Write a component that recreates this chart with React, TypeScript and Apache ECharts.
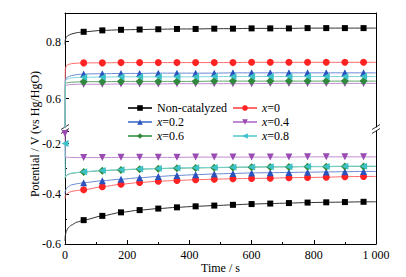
import React, { useEffect, useRef } from 'react';
import * as echarts from 'echarts';

const FONT = '"Liberation Serif", "Times New Roman", serif';

const markTimes = [60, 120, 180, 240, 300, 360, 420, 480, 540, 600, 660, 720, 780, 840, 900, 960];
const startTimes = [0, 1, 4, 10, 20, 38];
const endTime = 1000;
const xTicks = [0, 200, 400, 600, 800, 1000];

const names = ['Non-catalyzed', 'x=0', 'x=0.2', 'x=0.4', 'x=0.6', 'x=0.8'];

// upper (positive) branch
const ncUpStart = [0.79, 0.806, 0.815, 0.821, 0.826, 0.831];
const ncUp = [0.834, 0.839, 0.841, 0.842, 0.843, 0.844, 0.844, 0.845, 0.845, 0.846, 0.846, 0.846, 0.847, 0.847, 0.847, 0.847];
const x0UpStart = [0.45, 0.703, 0.714, 0.719, 0.722, 0.724];
const x0Up = [0.725, 0.725, 0.726, 0.726, 0.726, 0.726, 0.726, 0.726, 0.726, 0.727, 0.727, 0.727, 0.727, 0.727, 0.727, 0.727];
const x02UpStart = [0.45, 0.665, 0.672, 0.676, 0.680, 0.684];
const x02Up = [0.686, 0.687, 0.688, 0.688, 0.689, 0.689, 0.689, 0.689, 0.690, 0.690, 0.690, 0.690, 0.690, 0.690, 0.690, 0.690];
const x04UpStart = [0.45, 0.644, 0.646, 0.648, 0.649, 0.650];
const x04Up = [0.650, 0.650, 0.651, 0.651, 0.651, 0.652, 0.652, 0.652, 0.652, 0.652, 0.653, 0.653, 0.653, 0.653, 0.653, 0.653];
const x06UpStart = [0.45, 0.651, 0.654, 0.656, 0.657, 0.658];
const x06Up = [0.659, 0.659, 0.660, 0.660, 0.660, 0.660, 0.660, 0.661, 0.661, 0.661, 0.661, 0.661, 0.661, 0.661, 0.661, 0.661];
const x08UpStart = [0.45, 0.660, 0.666, 0.669, 0.672, 0.674];
const x08Up = [0.675, 0.675, 0.676, 0.676, 0.676, 0.676, 0.676, 0.677, 0.677, 0.677, 0.677, 0.677, 0.677, 0.677, 0.677, 0.677];

// lower (negative) branch
const ncLoStart = [-0.588, -0.566, -0.550, -0.536, -0.525, -0.513];
const ncLo = [-0.505, -0.488, -0.474, -0.465, -0.459, -0.454, -0.450, -0.447, -0.444, -0.441, -0.439, -0.437, -0.435, -0.434, -0.433, -0.432];
const x0LoStart = [-0.42, -0.410, -0.402, -0.396, -0.391, -0.387];
const x0Lo = [-0.384, -0.372, -0.362, -0.355, -0.350, -0.347, -0.344, -0.342, -0.340, -0.339, -0.338, -0.336, -0.335, -0.334, -0.332, -0.331];
const x02LoStart = [-0.40, -0.390, -0.380, -0.372, -0.365, -0.360];
const x02Lo = [-0.356, -0.348, -0.342, -0.336, -0.331, -0.327, -0.324, -0.321, -0.319, -0.317, -0.316, -0.315, -0.314, -0.313, -0.312, -0.311];
const x04LoStart = [-0.16, -0.254, -0.254, -0.255, -0.255, -0.256];
const x04Lo = [-0.256, -0.256, -0.255, -0.255, -0.255, -0.255, -0.254, -0.254, -0.254, -0.254, -0.254, -0.254, -0.253, -0.253, -0.253, -0.253];
const x06LoStart = [-0.34, -0.334, -0.328, -0.323, -0.319, -0.316];
const x06Lo = [-0.313, -0.308, -0.305, -0.302, -0.300, -0.298, -0.297, -0.296, -0.295, -0.294, -0.293, -0.293, -0.292, -0.292, -0.291, -0.291];
const x08LoStart = [-0.20, -0.335, -0.328, -0.322, -0.318, -0.315];
const x08Lo = [-0.312, -0.307, -0.304, -0.301, -0.299, -0.297, -0.296, -0.295, -0.294, -0.293, -0.292, -0.292, -0.291, -0.291, -0.290, -0.290];

const markerColors = ['#000000', '#ff2222', '#2a52be', '#9a4bb2', '#2f8a3c', '#3cc2c8'];
const lineColors = ['#333333', '#ff6a6a', '#6a8ad4', '#c08ad0', '#5ea86a', '#7ad6da'];
const symbols = ['rect', 'circle', 'triangle', 'triangle', 'diamond', 'triangle'];
const rotations = [0, 0, 0, 180, 0, 90];
const sizes = [6, 7, 7, 7, 8, 7];

function buildData(start: number[], marks: number[], markFirst: boolean) {
  const d: any[] = [];
  start.forEach((v, i) => {
    if (i === 0 && markFirst) d.push([startTimes[i], v]);
    else d.push({ value: [startTimes[i], v], symbol: 'none' });
  });
  marks.forEach((v, i) => d.push([markTimes[i], v]));
  d.push({ value: [endTime, marks[marks.length - 1]], symbol: 'none' });
  return d;
}

const upper = [
  [ncUpStart, ncUp], [x0UpStart, x0Up], [x02UpStart, x02Up],
  [x04UpStart, x04Up], [x06UpStart, x06Up], [x08UpStart, x08Up],
];
const lower = [
  [ncLoStart, ncLo], [x0LoStart, x0Lo], [x02LoStart, x02Lo],
  [x04LoStart, x04Lo], [x06LoStart, x06Lo], [x08LoStart, x08Lo],
];
const lowerSpike = [false, false, false, true, false, true];

export default function App() {
  const ref = useRef<HTMLDivElement>(null);
  useEffect(() => {
    if (!ref.current) return;
    const chart = echarts.init(ref.current, undefined, { renderer: 'svg' });
    const mkSeries = (i: number, pair: number[][], grid: number, spike: boolean) => ({
      type: 'line',
      name: names[i],
      xAxisIndex: grid,
      yAxisIndex: grid * 2,
      data: buildData(pair[0], pair[1], spike),
      symbol: symbols[i],
      symbolSize: sizes[i],
      symbolRotate: rotations[i],
      showAllSymbol: true,
      smooth: 0.25,
      smoothMonotone: 'x',
      clip: true,
      lineStyle: { width: 1, color: lineColors[i] },
      itemStyle: { color: markerColors[i] },
      emphasis: { disabled: true },
    });
    const series: any[] = [];
    upper.forEach((p, i) => series.push(mkSeries(i, p, 0, false)));
    lower.forEach((p, i) => series.push(mkSeries(i, p, 1, lowerSpike[i])));

    const labelFmt = (v: number) => (Math.abs(v * 5 - Math.round(v * 5)) < 1e-6 ? v.toFixed(1) : '');
    const axisLineStyle = { show: true, lineStyle: { color: '#000', width: 1 } };
    const legendFmt = (n: string) => (n.startsWith('x') ? '{i|x}' + n.slice(1) : n);
    const legendBase = {
      orient: 'vertical',
      top: 97,
      itemWidth: 24,
      itemHeight: 7,
      itemGap: 2,
      formatter: legendFmt,
      textStyle: {
        fontFamily: FONT,
        fontSize: 12,
        color: '#000',
        rich: { i: { fontStyle: 'italic', fontFamily: FONT, fontSize: 12, color: '#000' } },
      },
      selectedMode: false,
    };

    chart.setOption({
      animation: false,
      backgroundColor: '#ffffff',
      textStyle: { fontFamily: FONT },
      grid: [
        { left: 65, right: 30, top: 13, height: 114, show: false },
        { left: 65, right: 30, top: 131, height: 113, show: false },
      ],
      xAxis: [
        {
          type: 'value', gridIndex: 0, min: 0, max: endTime, position: 'top',
          axisLine: axisLineStyle, axisTick: { show: false }, axisLabel: { show: false },
          splitLine: { show: false },
        },
        {
          type: 'value', gridIndex: 1, min: 0, max: endTime, interval: 200, position: 'bottom',
          axisLine: { ...axisLineStyle, onZero: false },
          axisTick: { show: true, inside: true, length: 4, lineStyle: { color: '#000' } },
          minorTick: { show: true, splitNumber: 2, length: 2, lineStyle: { color: '#000' } },
          axisLabel: {
            margin: 5, color: '#000', fontFamily: FONT, fontSize: 12,
            formatter: (v: number) => (xTicks.includes(v) ? (v === 1000 ? '1 000' : String(v)) : ''),
          },
          splitLine: { show: false },
          name: 'Time / s', nameLocation: 'middle', nameGap: 17,
          nameTextStyle: { color: '#000', fontFamily: FONT, fontSize: 12 },
        },
      ],
      yAxis: [
        {
          type: 'value', gridIndex: 0, min: 0.5, max: 0.9, interval: 0.1, position: 'left',
          axisLine: { ...axisLineStyle, onZero: false },
          axisTick: { show: true, inside: true, length: 4, customValues: [0.6, 0.8], lineStyle: { color: '#000' } },
          axisLabel: { margin: 4, color: '#000', fontFamily: FONT, fontSize: 12, formatter: labelFmt },
          splitLine: { show: false },
        },
        {
          type: 'value', gridIndex: 0, min: 0.5, max: 0.9, position: 'right',
          axisLine: { ...axisLineStyle, onZero: false }, axisTick: { show: false }, axisLabel: { show: false },
          splitLine: { show: false },
        },
        {
          type: 'value', gridIndex: 1, min: -0.6, max: -0.15, interval: 0.2, position: 'left',
          axisLine: { ...axisLineStyle, onZero: false },
          axisTick: { show: true, inside: true, length: 4, lineStyle: { color: '#000' } },
          minorTick: { show: true, splitNumber: 2, length: 2, lineStyle: { color: '#000' } },
          axisLabel: { margin: 4, color: '#000', fontFamily: FONT, fontSize: 12, formatter: labelFmt, showMaxLabel: false },
          splitLine: { show: false },
        },
        {
          type: 'value', gridIndex: 1, min: -0.6, max: -0.15, position: 'right',
          axisLine: { ...axisLineStyle, onZero: false }, axisTick: { show: false }, axisLabel: { show: false },
          splitLine: { show: false },
        },
      ],
      legend: [
        { ...legendBase, left: 122, data: [names[0], names[2], names[4]] },
        { ...legendBase, left: 227, data: [names[1], names[3], names[5]] },
      ],
      graphic: [
        {
          type: 'text', x: 35, y: 134, rotation: Math.PI / 2,
          style: {
            text: 'Potential / V (vs Hg/HgO)', fontFamily: FONT, fontSize: 12, fill: '#000',
            align: 'center', verticalAlign: 'middle',
          },
        },
        { type: 'line', shape: { x1: 61, y1: 129.5, x2: 69, y2: 124.5 }, style: { stroke: '#000', lineWidth: 0.8 } },
        { type: 'line', shape: { x1: 61, y1: 133.5, x2: 69, y2: 128.5 }, style: { stroke: '#000', lineWidth: 0.8 } },
        { type: 'line', shape: { x1: 372, y1: 129.5, x2: 380, y2: 124.5 }, style: { stroke: '#000', lineWidth: 0.8 } },
        { type: 'line', shape: { x1: 372, y1: 133.5, x2: 380, y2: 128.5 }, style: { stroke: '#000', lineWidth: 0.8 } },
      ],
      series,
    });
    return () => chart.dispose();
  }, []);
  return <div ref={ref} style={{ width: 406, height: 277, position: 'fixed', left: 0, top: 0 }} />;
}
